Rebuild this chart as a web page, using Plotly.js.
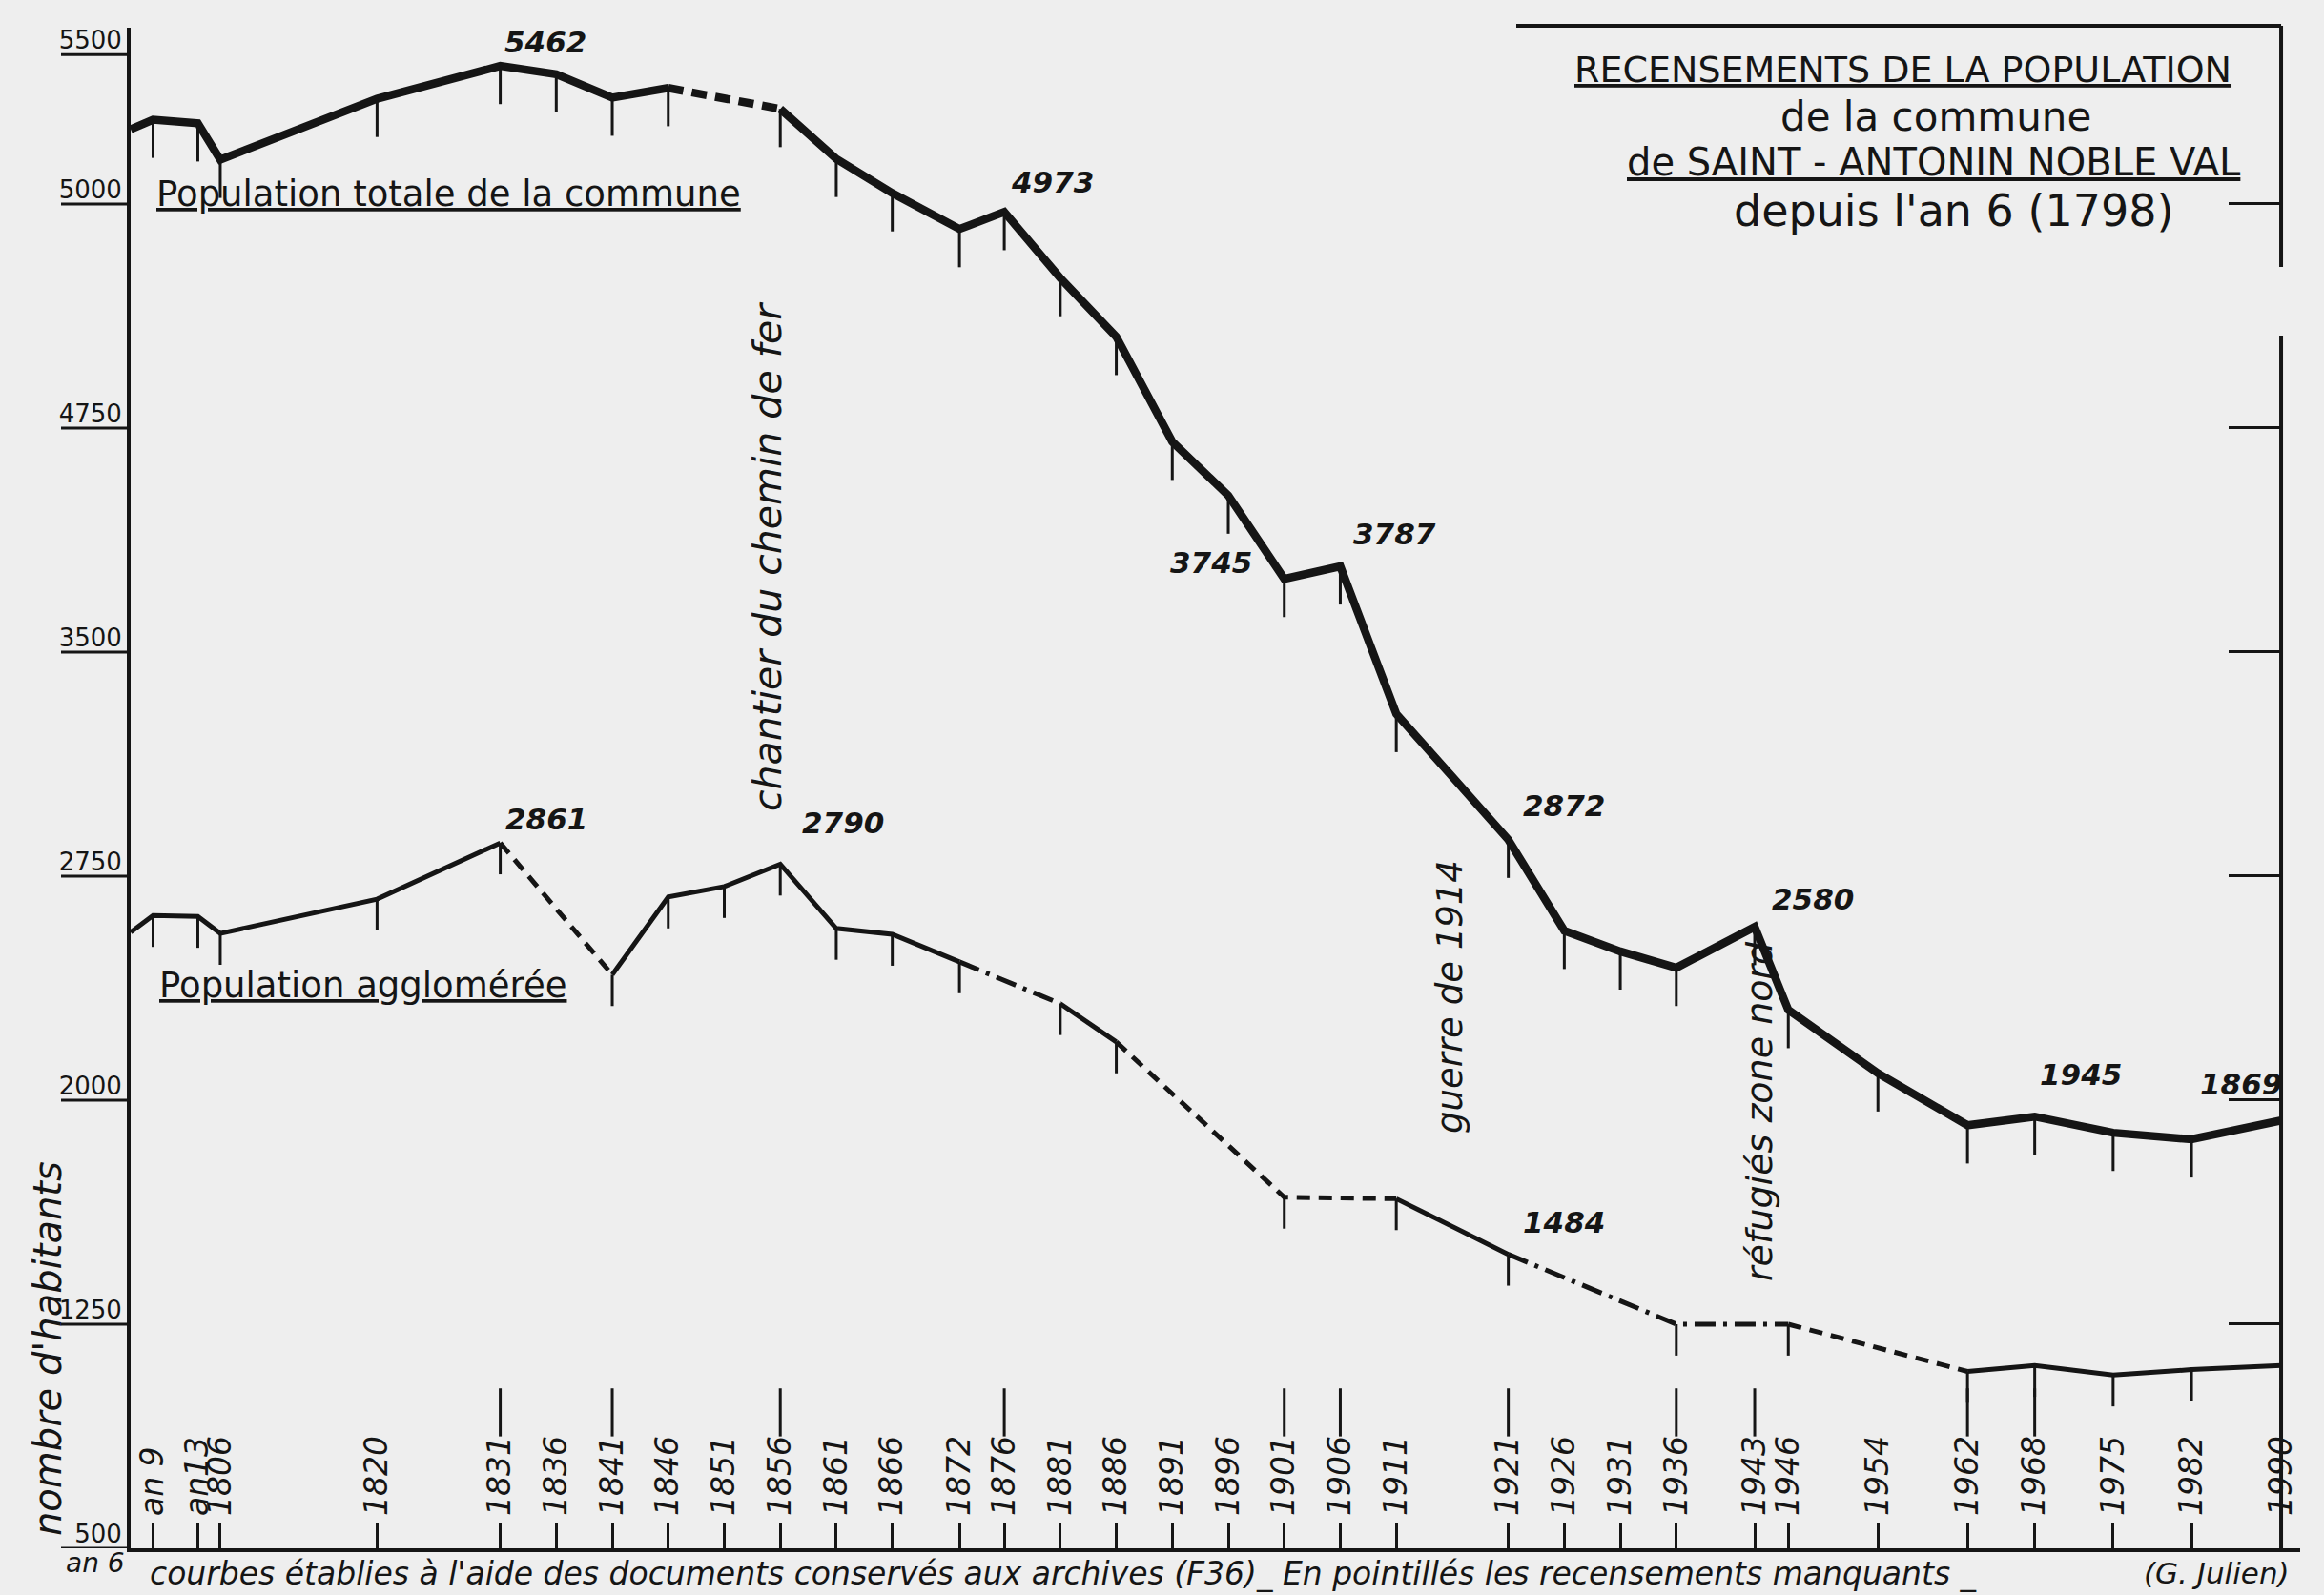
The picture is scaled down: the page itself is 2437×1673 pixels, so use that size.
<!DOCTYPE html>
<html>
<head>
<meta charset="utf-8">
<script src="https://cdn.plot.ly/plotly-3.0.1.min.js"></script>
<style>html,body{margin:0;padding:0;background:#eeeeee;}</style>
</head>
<body>
<div id="chart" style="width:2437px;height:1673px;"></div>
<script>
// ---------------- DATA ----------------
// census years (an 6 = 1798, an 9 ≈ 1800, an 13 ≈ 1804)
const totalYears = [1798,1800,1804,1806,1820,1831,1836,1841,1846,1856,1861,1866,1872,1876,1881,1886,1891,1896,1901,1906,1911,1921,1926,1931,1936,1943,1946,1954,1962,1968,1975,1982,1990];
const totalPop   = [5250,5282,5270,5148,5352,5462,5434,5356,5388,5318,5151,5036,4916,4973,4752,4555,4204,4024,3745,3787,3293,2872,2567,2498,2443,2580,2302,2090,1916,1945,1891,1869,1932];
// style of each segment between consecutive census points
const totalSegStyle = ['solid','solid','solid','solid','solid','solid','solid','solid','dash','solid','solid','solid','solid','solid','solid','solid','solid','solid','solid','solid','solid','solid','solid','solid','solid','solid','solid','solid','solid','solid','solid','solid'];

const agglYears = [1798,1800,1804,1806,1820,1831,1841,1846,1851,1856,1861,1866,1872,1881,1886,1901,1911,1921,1936,1946,1962,1968,1975,1982,1990];
const agglPop   = [2562,2618,2615,2558,2673,2861,2420,2680,2715,2790,2575,2555,2463,2323,2195,1675,1670,1484,1250,1250,1092,1112,1080,1098,1112];
const agglSegStyle = ['solid','solid','solid','solid','solid','dash','solid','solid','solid','solid','solid','solid','dashdot','solid','dash','dash','solid','dashdot','dashdot','dash','solid','solid','solid','solid'];

const xTickYears  = [1798,1800,1804,1806,1820,1831,1836,1841,1846,1851,1856,1861,1866,1872,1876,1881,1886,1891,1896,1901,1906,1911,1921,1926,1931,1936,1943,1946,1954,1962,1968,1975,1982,1990];
const xTickLabels = ['','an 9','an13','1806','1820','1831','1836','1841','1846','1851','1856','1861','1866','1872','1876','1881','1886','1891','1896','1901','1906','1911','1921','1926','1931','1936','1943','1946','1954','1962','1968','1975','1982','1990'];

const yTickVals = [500,1250,2000,2750,3500,4250,5000,5500];
const yTickText = ['500','1250','2000','2750','3500','4750','5000','5500'];
const rightTickVals = [1250,2000,2750,3500,4250,5000];

const markedYears = [1831,1841,1856,1876,1901,1906,1921,1936,1943,1962,1968,1990];
const totalLabelYears = [1831,1876,1901,1906,1921,1943,1968,1982];
const agglLabelYears  = [1831,1856,1921];

// ---------------- STYLE / GEOMETRY ----------------
const INK = '#151515';
const BG = '#eeeeee';
const FONT = 'DejaVu Sans';
const PL = 137, PR = 2412, PT = 29, PB = 1624;
const W = PR - PL, H = PB - PT;
const px = X => (X - PL) / W;
const py = Y => (PB - Y) / H;
const MARK_LEVEL = 955;
const dashMap = {
  total: {solid:'solid', dash:'16px,9px', dashdot:'22px,8px,4px,8px'},
  aggl:  {solid:'solid', dash:'14px,9px', dashdot:'22px,8px,4px,8px'}
};

function runsTraces(years, vals, styles, width, kind) {
  const out = [];
  let s = 0;
  while (s < styles.length) {
    let e = s;
    while (e + 1 < styles.length && styles[e + 1] === styles[s]) e++;
    out.push({
      type: 'scatter', mode: 'lines',
      x: years.slice(s, e + 2), y: vals.slice(s, e + 2),
      line: {color: INK, width: width, dash: dashMap[kind][styles[s]], shape: 'linear'},
      hoverinfo: 'skip', showlegend: false
    });
    s = e + 1;
  }
  return out;
}

function tickTrace(years, vals, lenVal) {
  const xs = years.slice(1, -1), ys = vals.slice(1, -1);
  return {
    type: 'scatter', mode: 'markers', x: xs, y: ys,
    marker: {size: 2, color: 'rgba(0,0,0,0)'},
    error_y: {type: 'constant', symmetric: false, value: 0, valueminus: lenVal,
              width: 0, thickness: 3, color: INK},
    hoverinfo: 'skip', showlegend: false
  };
}

const traces = [];
traces.push(...runsTraces(totalYears, totalPop, totalSegStyle, 8.5, 'total'));
traces.push(...runsTraces(agglYears, agglPop, agglSegStyle, 5, 'aggl'));
traces.push(tickTrace(totalYears, totalPop, 128));
traces.push(tickTrace(agglYears, agglPop, 105));
traces.push({
  type: 'scatter', mode: 'markers', x: markedYears, y: markedYears.map(() => MARK_LEVEL),
  marker: {symbol: 'line-ns', size: 36, color: INK, line: {color: INK, width: 3}},
  hoverinfo: 'skip', showlegend: false
});
traces.push({type: 'scatter', mode: 'markers', x: [totalYears[0]], y: [totalPop[0]], yaxis: 'y2',
  marker: {size: 1, color: 'rgba(0,0,0,0)'}, hoverinfo: 'skip', showlegend: false});

// ---------------- ANNOTATIONS ----------------
const ann = [];
const numFont = {family: FONT, size: 31, color: INK, style: 'italic', weight: 'bold'};
const totalLabelPos = {
  1831: {xa: 'left', xs: 2, ys: 5}, 1876: {xa: 'left', xs: 5, ys: 11},
  1901: {xa: 'right', xs: -32, ys: -3}, 1906: {xa: 'left', xs: 12, ys: 14},
  1921: {xa: 'left', xs: 13, ys: 16}, 1943: {xa: 'left', xs: 16, ys: 9},
  1968: {xa: 'left', xs: 3, ys: 24}, 1982: {xa: 'left', xs: 7, ys: 38}
};
const agglLabelPos = {
  1831: {xa: 'left', xs: 3, ys: 5}, 1856: {xa: 'left', xs: 21, ys: 23}, 1921: {xa: 'left', xs: 13, ys: 14}
};
totalLabelYears.forEach(yr => {
  const i = totalYears.indexOf(yr), p = totalLabelPos[yr];
  ann.push({x: yr, y: totalPop[i], xref: 'x', yref: 'y', text: String(totalPop[i]), showarrow: false,
    xanchor: p.xa, yanchor: 'bottom', xshift: p.xs, yshift: p.ys, font: numFont});
});
agglLabelYears.forEach(yr => {
  const i = agglYears.indexOf(yr), p = agglLabelPos[yr];
  ann.push({x: yr, y: agglPop[i], xref: 'x', yref: 'y', text: String(agglPop[i]), showarrow: false,
    xanchor: p.xa, yanchor: 'bottom', xshift: p.xs, yshift: p.ys, font: numFont});
});

function txt(text, X, Y, size, opts) {
  opts = opts || {};
  ann.push({
    text: text, x: px(X), y: py(Y), xref: 'paper', yref: 'paper', showarrow: false,
    xanchor: opts.xa || 'center', yanchor: 'middle', textangle: opts.angle || 0,
    font: {family: FONT, size: size, color: INK, style: opts.italic ? 'italic' : 'normal',
           lineposition: opts.under ? 'under' : 'none', weight: opts.bold ? 'bold' : 'normal'}
  });
}
// title block
txt('RECENSEMENTS DE LA POPULATION', 1995, 73, 38, {under: true});
txt('de la commune', 2030, 122, 42, {});
txt('de SAINT - ANTONIN NOBLE VAL', 2028, 170, 40, {under: true});
txt("depuis l'an 6 (1798)", 2048, 221, 46, {});
// curve names
txt('Population totale de la commune', 162, 203, 37, {xa: 'left', under: true});
txt('Population agglomérée', 165, 1033, 37, {xa: 'left', under: true});
// vertical notes
txt('chantier du chemin de fer', 805, 584, 41, {angle: -90, italic: true});
txt('guerre de 1914', 1520, 1046, 37, {angle: -90, italic: true});
txt('réfugiés zone nord', 1845, 1166, 38, {angle: -90, italic: true});
txt("nombre d'habitants", 50, 1415, 40, {angle: -90, italic: true});
// bottom notes
txt('courbes établies à l\'aide des documents conservés aux archives (F36)_ En pointillés les recensements manquants _', 155, 1650, 33, {xa: 'left', italic: true});
txt('(G. Julien)', 2324, 1650, 31, {italic: true});
txt('an 6', 100, 1640, 28, {italic: true});

// ---------------- FRAME SHAPES ----------------
const xr = (1990 - 1798) / (1991.7 - 1798);
const shapes = [
  {type: 'line', xref: 'paper', yref: 'paper', x0: px(1590), x1: xr, y0: py(27), y1: py(27), line: {color: INK, width: 4}},
  {type: 'line', xref: 'paper', yref: 'paper', x0: xr, x1: xr, y0: py(27), y1: py(280), line: {color: INK, width: 4}},
  {type: 'line', xref: 'paper', yref: 'paper', x0: xr, x1: xr, y0: py(352), y1: 0, line: {color: INK, width: 4}}
];
// left-hand tick strokes (the underlines of the value labels)
yTickVals.forEach(v => {
  shapes.push({type: 'line', xref: 'paper', yref: 'y', x0: px(64), x1: 0, y0: v, y1: v,
    line: {color: INK, width: 3}});
});

const layout = {
  width: 2437, height: 1673,
  margin: {l: PL, r: 2437 - PR, t: PT, b: 1673 - PB, pad: 0},
  paper_bgcolor: BG, plot_bgcolor: BG,
  showlegend: false,
  font: {family: FONT, color: INK},
  xaxis: {
    range: [1798, 1991.7], showgrid: false, zeroline: false,
    showline: true, linecolor: INK, linewidth: 4,
    tickmode: 'array', tickvals: xTickYears, ticktext: xTickLabels,
    ticks: 'inside', ticklen: 26, tickwidth: 3, tickcolor: INK,
    ticklabelposition: 'inside', tickangle: -90, ticklabeloverflow: 'allow',
    tickfont: {family: FONT, size: 33, color: INK, style: 'italic'}
  },
  yaxis: {
    range: [500, 5590], showgrid: false, zeroline: false,
    showline: true, linecolor: INK, linewidth: 4,
    tickmode: 'array', tickvals: yTickVals, ticktext: yTickText,
    ticks: '', ticklabelshift: -15,
    tickfont: {family: FONT, size: 26, color: INK}
  },
  yaxis2: {
    range: [500, 5590], overlaying: 'y', side: 'right', anchor: 'free', position: xr,
    showgrid: false, zeroline: false, showline: false, showticklabels: false,
    tickmode: 'array', tickvals: rightTickVals,
    ticks: 'inside', ticklen: 55, tickwidth: 3, tickcolor: INK
  },
  annotations: ann,
  shapes: shapes
};

Plotly.newPlot('chart', traces, layout, {staticPlot: true, displayModeBar: false});
</script>
</body>
</html>
